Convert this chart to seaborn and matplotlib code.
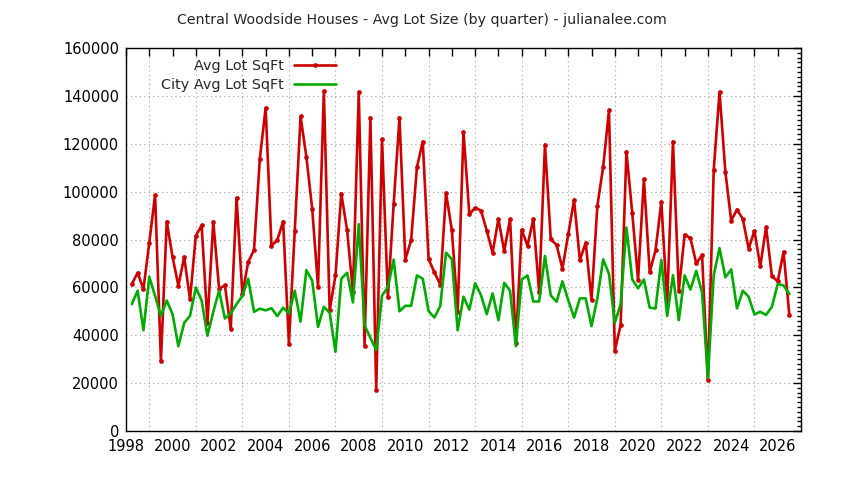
import numpy as np
import pandas as pd
import matplotlib
matplotlib.use("Agg")
import matplotlib.pyplot as plt
import seaborn as sns

# Quarter positions (end of quarter, decimal years): 1998 Q1 .. 2026 Q2
quarters = 1998.25 + 0.25 * np.arange(114)

avg_lot = [
    61400, 66100, 59200, 78700, 98600, 29300, 87500, 72700, 60700, 72700,
    55000, 81500, 85900, 45300, 87500, 59400, 60800, 42700, 97400, 57200,
    70600, 75600, 113800, 135000, 77400, 79800, 87500, 36500, 83600, 131400,
    114500, 92800, 60300, 141900, 50400, 65000, 99200, 83800, 58000, 141500,
    35700, 130900, 17300, 121800, 55800, 94900, 130900, 71600, 79700, 110300,
    120900, 71800, 66300, 61200, 99500, 83800, 49800, 125000, 90500,
    93300, 92100, 83700, 74500, 88600, 75100, 88600, 36800, 84100, 77400,
    88600, 58000, 119600, 80100, 77700, 67800, 82200, 96500, 71400, 78700,
    54700, 94000, 110300, 133900, 33600, 44200, 116600, 91100, 63200,
    105200, 66300, 75500, 95700, 53300, 120900, 58600, 82000, 80600, 70000,
    73500, 21100, 109100, 141700, 108300, 87900, 92500, 88600, 76200, 83600,
    68800, 85200, 64700, 62500, 74900, 48300,
]

city_avg_lot = [
    53000, 58600, 42100, 64400, 56400, 48000, 54500, 48800, 35400, 45200,
    48100, 60000, 54500, 39800, 49800, 58600, 47000, 49100, 53000, 56400,
    63600, 49800, 51100, 50400, 51300, 48000, 51500, 49100, 58600, 45700,
    67200, 62800, 43500, 51900, 49400, 33100, 63600, 66100, 53700, 86400,
    44200, 38900, 33800, 56600, 60000, 71600, 50000, 52300, 52300, 65000,
    63600, 50100, 47400, 52200, 74500, 71700, 42100, 56100, 50700,
    61700, 56800, 48800, 57500, 46300, 61900, 58600, 35400, 63300, 65000,
    54100, 54100, 73100, 56600, 54000, 62500, 54700, 47400, 55400, 55400,
    43800, 55400, 71700, 65600, 45200, 52900, 85000, 63300, 59600,
    63300, 51500, 51200, 71400, 48000, 65100, 46300, 65000, 59100, 66900,
    57800, 22200, 65100, 76400, 64200, 67500, 51200, 58600, 56100, 48700,
    49800, 48500, 51900, 61400, 60800, 57200,
]

title = "Central Woodside Houses - Avg Lot Size (by quarter) - julianalee.com"
label_red = "Avg Lot SqFt"
label_green = "City Avg Lot SqFt"
x_major = list(range(1998, 2027, 2))
x_minor = list(range(1999, 2027, 2))
y_major = list(range(0, 160001, 20000))

df = pd.DataFrame({"quarter": quarters, "red": avg_lot, "green": city_avg_lot})

sns.set_style("white")
plt.rcParams["font.family"] = ["DejaVu Sans"]

fig = plt.figure(figsize=(8.44, 4.8), dpi=100)
ax = fig.add_axes([126 / 844, 1 - 431 / 480, (801 - 126) / 844, (431 - 48) / 480])

RED = "#cc0000"
GREEN = "#00aa00"

sns.lineplot(data=df, x="quarter", y="red", ax=ax, color=RED, lw=1.9,
             marker="o", markersize=3.4, markeredgewidth=0, label=label_red)
sns.lineplot(data=df, x="quarter", y="green", ax=ax, color=GREEN, lw=1.9,
             label=label_green)

ax.set_xlim(1998, 2027)
ax.set_ylim(0, 160000)
ax.set_xlabel("")
ax.set_ylabel("")

ax.set_xticks(x_major)
ax.set_xticklabels([str(v) for v in x_major])
ax.set_xticks(x_minor, minor=True)
ax.set_yticks(y_major)
ax.set_yticklabels([str(v) for v in y_major])
ax.set_yticks(list(range(0, 160001, 2000)), minor=True)

ax.tick_params(axis="both", which="both", direction="in", top=True, right=True,
               labelsize=10.5, colors="black", width=1)
ax.tick_params(axis="x", which="major", length=6, pad=6)
ax.tick_params(axis="x", which="minor", length=6)
ax.tick_params(axis="y", which="major", length=6, pad=5)
ax.tick_params(axis="y", which="minor", length=3)

ax.grid(False)
ax.grid(which="minor", axis="x", color="#a0a0a0", linestyle=(0, (1, 3)), lw=0.8)
ax.grid(which="major", axis="y", color="#a0a0a0", linestyle=(0, (1, 3)), lw=0.8)
ax.set_axisbelow(True)

for s in ax.spines.values():
    s.set_visible(True)
    s.set_color("black")
    s.set_linewidth(1.0)

fig.text(0.5, 1 - 20 / 480, title, ha="center", va="center", fontsize=10.2)

leg = ax.legend(loc="center right", bbox_to_anchor=(336 / 844, 1 - 75.5 / 480),
                bbox_transform=fig.transFigure, frameon=False, markerfirst=False,
                fontsize=10.4, handlelength=2.9, handletextpad=0.7,
                labelspacing=0.3, borderpad=0, borderaxespad=0)

fig.savefig("out.png", dpi=100)
